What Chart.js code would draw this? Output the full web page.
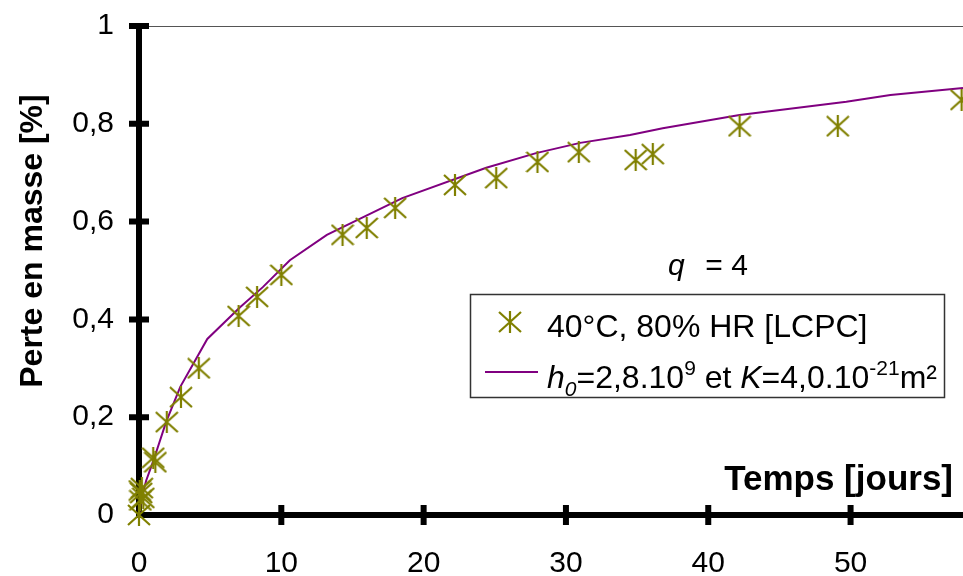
<!DOCTYPE html>
<html>
<head>
<meta charset="utf-8">
<script src="https://cdn.jsdelivr.net/npm/chart.js@4"></script>
<style>
  html, body { margin: 0; padding: 0; background: #fff; }
  #wrap { width: 963px; height: 576px; }
</style>
</head>
<body>
<div id="wrap"><canvas id="massChart" width="963" height="576"></canvas></div>
<script>
// measured mass loss, 40°C 80% HR
const measDays = [0, 0.05, 0.1, 0.15, 0.2, 0.3, 1.0, 1.15, 1.95, 2.95, 4.2, 7.0, 8.3, 10.0, 14.3, 16.0, 18.0, 22.2, 25.1, 28.0, 30.9, 34.9, 36.1, 42.2, 49.1, 57.8];
const measLoss = [0, 0.05, 0.03, 0.045, 0.055, 0.035, 0.117, 0.108, 0.19, 0.241, 0.30, 0.407, 0.446, 0.491, 0.573, 0.587, 0.628, 0.675, 0.689, 0.722, 0.742, 0.726, 0.738, 0.795, 0.795, 0.849];

// model curve
const modelDays = [0, 0.15, 0.5, 1, 1.9, 2.9, 4.8, 7.1, 8.7, 10.6, 13.2, 18.5, 24.4, 27.9, 31, 34.5, 36.8, 42.2, 49.7, 52.8, 57.9];
const modelLoss = [0, 0.03, 0.07, 0.11, 0.19, 0.262, 0.36, 0.425, 0.466, 0.521, 0.573, 0.648, 0.71, 0.74, 0.761, 0.777, 0.791, 0.818, 0.845, 0.859, 0.873];

const xTicks = [0, 10, 20, 30, 40, 50];
const yTicks = [0, 0.2, 0.4, 0.6, 0.8, 1];

const legendMeas = '40°C, 80% HR [LCPC]';
const legendModel = [
  { t: 'h', style: 'italic ', size: 32, dy: 0 },
  { t: '0', style: 'italic ', size: 21, dy: 8 },
  { t: '=2,8.10', style: '', size: 32, dy: 0 },
  { t: '9', style: '', size: 21, dy: -13 },
  { t: ' et ', style: '', size: 32, dy: 0 },
  { t: 'K', style: 'italic ', size: 32, dy: 0 },
  { t: '=4,0.10', style: '', size: 32, dy: 0 },
  { t: '-21', style: '', size: 21, dy: -13 },
  { t: 'm²', style: '', size: 32, dy: 0 }
];

const FONT = '"Liberation Sans", Arial, sans-serif';
const OLIVE = '#808000';
const PURPLE = '#800080';

// star marker: X with a vertical bar
function makeStar() {
  const c = document.createElement('canvas');
  c.width = 24; c.height = 22;
  const g = c.getContext('2d');
  g.strokeStyle = OLIVE;
  g.lineWidth = 2.2;
  g.beginPath();
  g.moveTo(1, 1); g.lineTo(23, 21);
  g.moveTo(23, 1); g.lineTo(1, 21);
  g.moveTo(12, 0); g.lineTo(12, 22);
  g.stroke();
  return c;
}
const star = makeStar();

function noPad(s) {
  s.paddingLeft = 0; s.paddingRight = 0; s.paddingTop = 0; s.paddingBottom = 0;
}

const extras = {
  id: 'extras',
  beforeDatasetsDraw(chart) {
    const ctx = chart.ctx;
    const xs = chart.scales.x, ys = chart.scales.y;
    const a = chart.chartArea;
    ctx.save();
    // top frame line
    ctx.strokeStyle = '#555';
    ctx.lineWidth = 1;
    ctx.beginPath();
    ctx.moveTo(a.left, a.top + 0.5);
    ctx.lineTo(a.right, a.top + 0.5);
    ctx.stroke();
    // crossing tick marks
    ctx.strokeStyle = '#000';
    ctx.lineWidth = 6;
    ctx.beginPath();
    yTicks.forEach(v => {
      if (v === 0) return;
      const py = ys.getPixelForValue(v);
      ctx.moveTo(a.left - 10, py);
      ctx.lineTo(a.left + 10, py);
    });
    xTicks.forEach(v => {
      if (v === 0) return;
      const px = xs.getPixelForValue(v);
      ctx.moveTo(px, a.bottom - 10);
      ctx.lineTo(px, a.bottom + 10);
    });
    ctx.stroke();
    ctx.restore();
  },
  afterDraw(chart) {
    const ctx = chart.ctx;
    ctx.save();
    ctx.fillStyle = '#000';

    // y axis title
    ctx.save();
    ctx.translate(42, 241);
    ctx.rotate(-Math.PI / 2);
    ctx.font = 'bold 32px ' + FONT;
    ctx.textAlign = 'center';
    ctx.textBaseline = 'alphabetic';
    ctx.fillText('Perte en masse [%]', 0, 0);
    ctx.restore();

    // x axis title inside plot
    ctx.font = 'bold 35px ' + FONT;
    ctx.textAlign = 'right';
    ctx.textBaseline = 'alphabetic';
    ctx.fillText('Temps [jours]', 953, 490);

    // q = 4
    ctx.textAlign = 'left';
    ctx.font = 'italic 30px ' + FONT;
    ctx.fillText('q', 668, 275);
    ctx.font = '30px ' + FONT;
    ctx.fillText(' = 4', 697, 275);

    // legend box
    ctx.fillStyle = '#fff';
    ctx.fillRect(470, 294, 474, 103);
    ctx.strokeStyle = '#333';
    ctx.lineWidth = 1.5;
    ctx.strokeRect(470.5, 294.5, 474, 103);
    ctx.drawImage(star, 510 - 12, 322 - 11);
    ctx.strokeStyle = PURPLE;
    ctx.lineWidth = 2;
    ctx.beginPath();
    ctx.moveTo(485, 372);
    ctx.lineTo(538, 372);
    ctx.stroke();
    ctx.fillStyle = '#000';
    ctx.font = '32px ' + FONT;
    ctx.fillText(legendMeas, 547, 337);
    let x = 547;
    legendModel.forEach(s => {
      ctx.font = s.style + s.size + 'px ' + FONT;
      ctx.fillText(s.t, x, 388 + s.dy);
      x += ctx.measureText(s.t).width;
    });
    ctx.restore();
  }
};

new Chart(document.getElementById('massChart'), {
  type: 'scatter',
  data: {
    datasets: [
      {
        label: legendMeas,
        data: measDays.map((d, i) => ({ x: d, y: measLoss[i] })),
        pointStyle: star,
        pointRadius: 11,
        showLine: false,
        clip: false
      },
      {
        label: 'model',
        data: modelDays.map((d, i) => ({ x: d, y: modelLoss[i] })),
        showLine: true,
        borderColor: PURPLE,
        borderWidth: 2,
        pointRadius: 0,
        tension: 0,
        clip: false
      }
    ]
  },
  options: {
    responsive: false,
    animation: false,
    devicePixelRatio: 1,
    layout: { autoPadding: false, padding: { top: 26, left: 0, right: 0, bottom: 0 } },
    plugins: {
      legend: { display: false },
      tooltip: { enabled: false }
    },
    scales: {
      x: {
        type: 'linear',
        min: 0,
        max: 57.9,
        afterFit: s => { s.height = 61; noPad(s); },
        grid: { display: false },
        border: { display: true, color: '#000', width: 6 },
        ticks: {
          stepSize: 10,
          includeBounds: false,
          padding: 23,
          color: '#000',
          font: { family: FONT, size: 30 }
        }
      },
      y: {
        min: 0,
        max: 1,
        afterFit: s => { s.width = 139; noPad(s); },
        grid: { display: false },
        border: { display: true, color: '#000', width: 6 },
        ticks: {
          stepSize: 0.2,
          padding: 17,
          color: '#000',
          font: { family: FONT, size: 30 },
          callback: v => String(Number(v.toFixed(1))).replace('.', ',')
        }
      }
    }
  },
  plugins: [extras]
});
</script>
</body>
</html>
